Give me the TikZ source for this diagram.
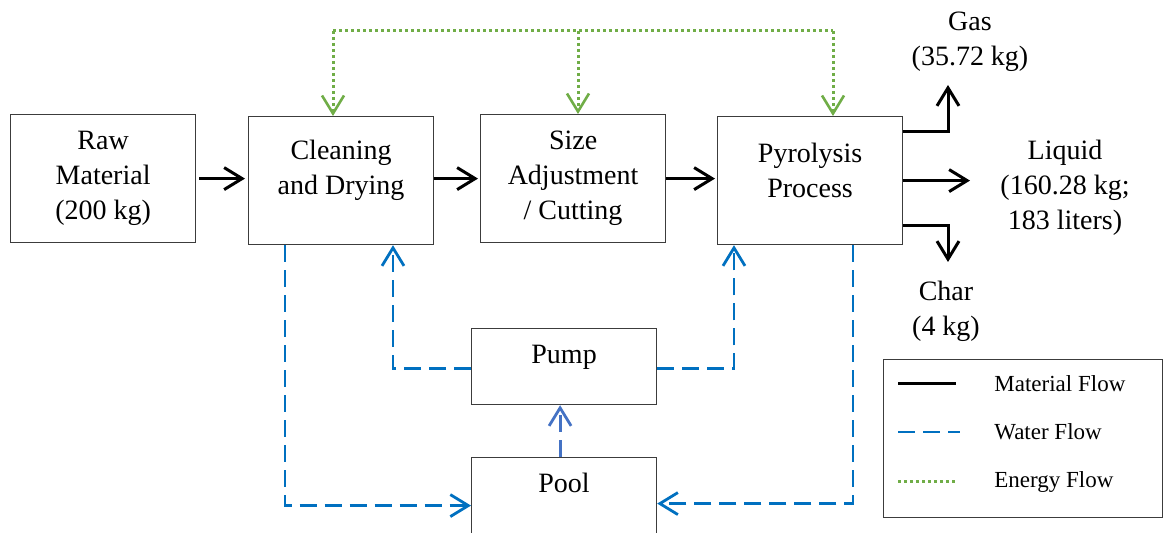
\documentclass[tikz,border=0pt]{standalone}
\usepackage{fontspec}
\setmainfont{Liberation Serif}
\usetikzlibrary{arrows.meta}
\definecolor{waterblue}{RGB}{0,112,192}
\definecolor{pumpblue}{RGB}{68,114,196}
\definecolor{energygreen}{RGB}{112,173,71}
\definecolor{boxline}{RGB}{60,60,60}

\begin{document}
\begin{tikzpicture}[x=0.5pt,y=-0.5pt,
  every node/.style={font=\rmfamily\fontsize{14}{17.5}\selectfont},
  box/.style={draw=boxline, line width=0.6pt, inner sep=0pt, anchor=north west,
    minimum width=92.5pt, minimum height=64pt, align=center},
  smallbox/.style={box, minimum height=38pt},
  label/.style={align=center, inner sep=0pt},
  legendtext/.style={anchor=west, inner sep=0pt, font=\rmfamily\fontsize{11.5}{13}\selectfont},
  barb/.style={-{Straight Barb[length=9pt,width=11pt,line width=#1]}},
  matflow/.style={line width=1.5pt, black, barb=1.5pt},
  matline/.style={line width=1.5pt, black},
  waterflow/.style={line width=1.45pt, waterblue, dash pattern=on 8.5pt off 4pt, barb=1.4pt},
  waterline/.style={line width=1.45pt, waterblue, dash pattern=on 8.5pt off 4pt},
  energyflow/.style={line width=1.5pt, energygreen, dash pattern=on 1.5pt off 1.5pt, barb=1.3pt},
  energyline/.style={line width=1.5pt, energygreen, dash pattern=on 1.5pt off 1.5pt}
]
\useasboundingbox (0,0) rectangle (1163,533);
\clip (0,0) rectangle (1163,533);

% process boxes
\node[box] (raw)   at (10,114)  {Raw\\Material\\(200 kg)};
\node[box] (clean) at (248,116) {};
\node[box] (size)  at (480,114) {Size\\Adjustment\\/ Cutting};
\node[box] (pyro)  at (717,116) {};
\node[label] (cleantext) at ([yshift=5pt]clean.center) {Cleaning\\and Drying};
\node[label] (pyrotext)  at ([yshift=5pt]pyro.center)  {Pyrolysis\\Process};

% water loop boxes
\node[smallbox] (pump) at (471,328) {};
\node[smallbox] (pool) at (471,457) {};
\node[label] (pumptext) at ([yshift=4.5pt]pump.center) {Pump};
\node[label] (pooltext) at ([yshift=6.5pt]pool.center) {Pool};

% products
\node[label] (gas)    at (970,42)  {Gas\\(35.72 kg)};
\node[label] (liquid) at (1065,188) {Liquid\\(160.28 kg;\\183 liters)};
\node[label] (char)   at (946,311) {Char\\(4 kg)};
\coordinate (gastip)  at (948,85);
\coordinate (liqtip)  at (970,179);
\coordinate (chartip) at (948,262);

% material flow
\draw[matflow, shorten <=1.5pt, shorten >=1.5pt] (raw.east) -- (raw.east -| clean.west);
\draw[matflow, shorten >=1pt] (clean.east |- size.east) -- (size.west);
\draw[matflow, shorten >=1pt] (size.east) -- (size.east -| pyro.west);
\draw[matflow] ([yshift=-8pt]pyro.north east) -| (gastip);
\draw[matflow] (pyro.east) -- (pyro.east -| liqtip);
\draw[matflow] ([yshift=10pt]pyro.south east) -| (chartip);

% energy flow
\coordinate (eL) at (333,31);
\coordinate (eM) at (578,31);
\coordinate (eR) at (833,31);
\draw[energyline] (eL) -- (eR);
\draw[energyflow] (eL) -- (eL |- clean.north);
\draw[energyflow] (eM) -- (eM |- size.north);
\draw[energyflow] (eR) -- (eR |- pyro.north);

% water flow
\draw[waterflow] ([xshift=18.5pt]clean.south west) |- ([yshift=-5pt]pool.west);
\draw[waterflow] ([xshift=68pt]pyro.south west) |- ([yshift=-4pt]pool.east);
\draw[waterflow] ([yshift=-1pt]pump.west) -| ([xshift=72.5pt]clean.south west);
\draw[waterflow] ([yshift=-1pt]pump.east) -| ([xshift=8.5pt]pyro.south west);
\draw[waterflow, pumpblue] ([xshift=-2pt]pool.north) -- ([xshift=-2pt]pump.south);

% legend
\node[draw=boxline, line width=0.6pt, anchor=north west, minimum width=139.5pt,
  minimum height=79pt, inner sep=0pt] (legend) at (883,359) {};
\coordinate (m1) at (898,384); \coordinate (m2) at (956,384);
\coordinate (w1) at (898,432); \coordinate (w2) at (960,432);
\coordinate (g1) at (898,482); \coordinate (g2) at (958,482);
\draw[matline] (m1) -- (m2);
\draw[waterline] (w1) -- (w2);
\draw[energyline] (g1) -- (g2);
\node[legendtext] (lm) at (994,384) {Material Flow};
\node[legendtext] (lw) at (994,432) {Water Flow};
\node[legendtext] (lg) at (994,482) {Energy Flow};
\end{tikzpicture}
\end{document}
